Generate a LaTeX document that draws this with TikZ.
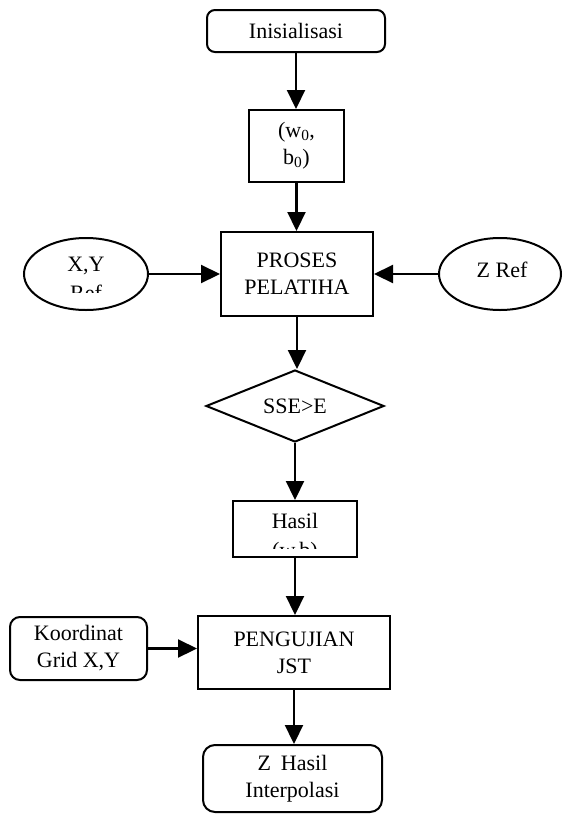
\documentclass[tikz,border=0pt]{standalone}
\usepackage{fontspec}
\setmainfont{Liberation Serif}
\usetikzlibrary{shapes.geometric,arrows.meta}
\begin{document}
\begin{tikzpicture}[x=1pt,y=-1pt,
  every node/.style={font=\fontsize{22}{27}\selectfont, align=center, inner sep=0pt},
  box/.style={draw, line width=2pt, rectangle},
  rbox/.style={box, rounded corners=10pt},
  oval/.style={draw, line width=2pt, ellipse},
  dec/.style={draw, line width=2pt, diamond, aspect=2.47},
  conn/.style={line width=2.2pt, -{Triangle[length=19pt,width=18pt]}},
]
\useasboundingbox[fill=white] (0,0) rectangle (570,815);

% nodes
\node[rbox, rounded corners=8pt, minimum width=178pt, minimum height=42pt] (init) at (296,31) {Inisialisasi};
\node[box, minimum width=95pt, minimum height=72pt] (wb) at (296.5,146) {(w\textsubscript{0},\\b\textsubscript{0})};
\node[box, minimum width=152pt, minimum height=84pt] (proc) at (297,274) {\fontsize{22}{29}\selectfont PROSES\\PELATIHA};
\node[oval, minimum width=124pt, minimum height=72pt] (xy) at (86,274) {};
\node (xyt) at (86,266) {X,Y};
\begin{scope}
  \clip (40,280) rectangle (130,292);
  \node (xyref) at (86,293) {Ref};
\end{scope}
\node[oval, minimum width=122pt, minimum height=72pt] (zref) at (500,274) {};
\node (zreft) at (502,270) {Z Ref};
\node[dec, minimum width=178pt, minimum height=72pt] (sse) at (295,406) {SSE>E};
\node[box, minimum width=124pt, minimum height=56pt] (hasil) at (295,529) {};
\node (hasilt) at (295,521) {Hasil};
\begin{scope}
  \clip (250,535) rectangle (340,548);
  \node (hasilwb) at (295,552) {(w,b)};
\end{scope}
\node[box, minimum width=192pt, minimum height=73pt] (uji) at (294,652.5) {\fontsize{22}{24}\selectfont PENGUJIAN\\JST};
\node[rbox, minimum width=137pt, minimum height=63pt] (grid) at (78.5,648.5) {Koordinat\\Grid X,Y};
\node[rbox, rounded corners=12pt, minimum width=179pt, minimum height=67pt] (zh) at (292.5,778.5) {Z\hspace{0.45em}Hasil\\Interpolasi};

% connectors
\draw[conn] (init.south) -- (init.south |- wb.north);
\draw[conn] (wb.south) -- (wb.south |- proc.north);
\draw[conn] (xy.east) -- (xy.east -| proc.west);
\draw[conn] (zref.west) -- (zref.west -| proc.east);
\draw[conn] (proc.south) -- (proc.south |- sse.north);
\draw[conn] (sse.south) -- (sse.south |- hasil.north);
\draw[conn] (hasil.south) -- (hasil.south |- uji.north);
\draw[conn] (grid.east) -- (grid.east -| uji.west);
\draw[conn] (uji.south) -- (uji.south |- zh.north);
\end{tikzpicture}
\end{document}
